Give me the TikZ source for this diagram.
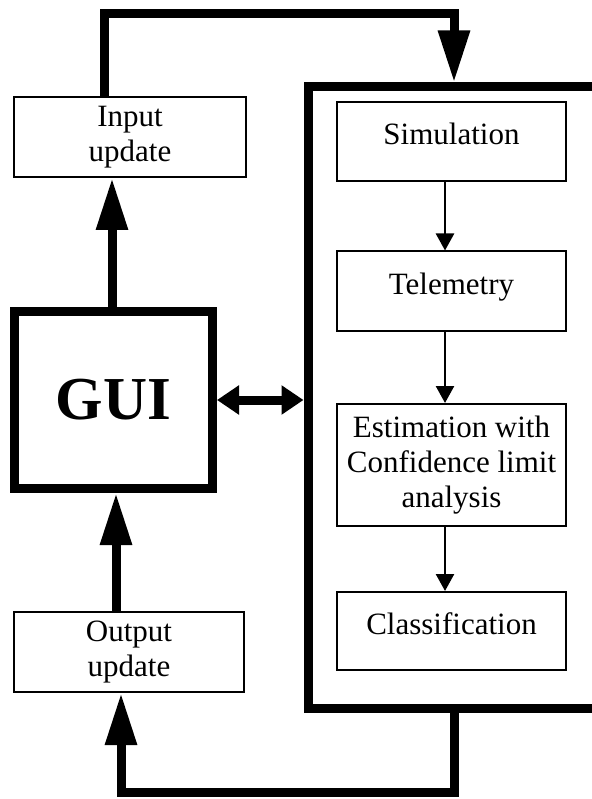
\documentclass[tikz,border=0pt]{standalone}
\usepackage{fontspec}
\setmainfont{Liberation Serif}
\usetikzlibrary{arrows.meta}

\begin{document}
\begin{tikzpicture}[x=1pt,y=-1pt,
        blk/.style={draw,line width=2pt,minimum width=229pt,minimum height=79pt,inner sep=0pt,
            align=center,font=\fontsize{31}{35}\selectfont},
        oneline/.style={text height=22pt,text depth=16pt},
        guibox/.style={draw,line width=9pt,minimum width=198pt,minimum height=177pt,inner sep=0pt,
            font=\fontsize{61}{61}\selectfont\bfseries},
        frame/.style={draw,line width=9pt,minimum width=312pt,minimum height=621pt},
        fatarrow/.style={line width=9pt,-{Triangle[length=52pt,width=30pt]}},
        twoway/.style={line width=9pt,{Triangle[length=22pt,width=28pt]}-{Triangle[length=22pt,width=28pt]}},
        slim/.style={line width=2.5pt,-{Triangle[length=17pt,width=18pt]}}]

    \useasboundingbox (0,0) rectangle (591,799);

    % left column
    \node[blk,minimum width=232pt,minimum height=80pt] (inp) at (130,137) {Input\\update};
    \node[guibox] (gui) at (113.5,400) {GUI};
    \node[blk,minimum width=230pt,minimum height=80pt] (outp) at (129,652) {Output\\update};

    % processing loop
    \node[frame] (loop) at (464,397.5) {};
    \node[blk,oneline] (sim) at (451.5,141.5) {Simulation};
    \node[blk,oneline] (tel) at (451.5,291) {Telemetry};
    \node[blk,minimum height=122pt] (est) at (451.5,465) {Estimation with\\Confidence limit\\analysis};
    \node[blk,oneline,minimum height=78pt] (cls) at (451.5,631) {Classification};

    \coordinate (cl) at (104,14);
    \coordinate (ct) at (454,14);
    \coordinate (cb) at (454,792);
    \coordinate (cr) at (121,792);
    \coordinate (xin) at (112,0);
    \coordinate (xout) at (116,0);

    \draw[fatarrow] (inp.north -| cl) -- (cl) -- (ct) -- (loop.north -| ct);
    \draw[fatarrow] (gui.north -| xin) -- (inp.south -| xin);
    \draw[fatarrow] (outp.north -| xout) -- (gui.south -| xout);
    \draw[fatarrow] (loop.south -| cb) -- (cb) -- (cr) -- (outp.south -| cr);
    \draw[twoway] (gui.east) -- (gui.east -| loop.west);

    \draw[slim] ([xshift=-6.5pt]sim.south) -- ([xshift=-6.5pt]tel.north);
    \draw[slim] ([xshift=-6.5pt]tel.south) -- ([xshift=-6.5pt]est.north);
    \draw[slim] ([xshift=-6.5pt]est.south) -- ([xshift=-6.5pt]cls.north);
\end{tikzpicture}
\end{document}
